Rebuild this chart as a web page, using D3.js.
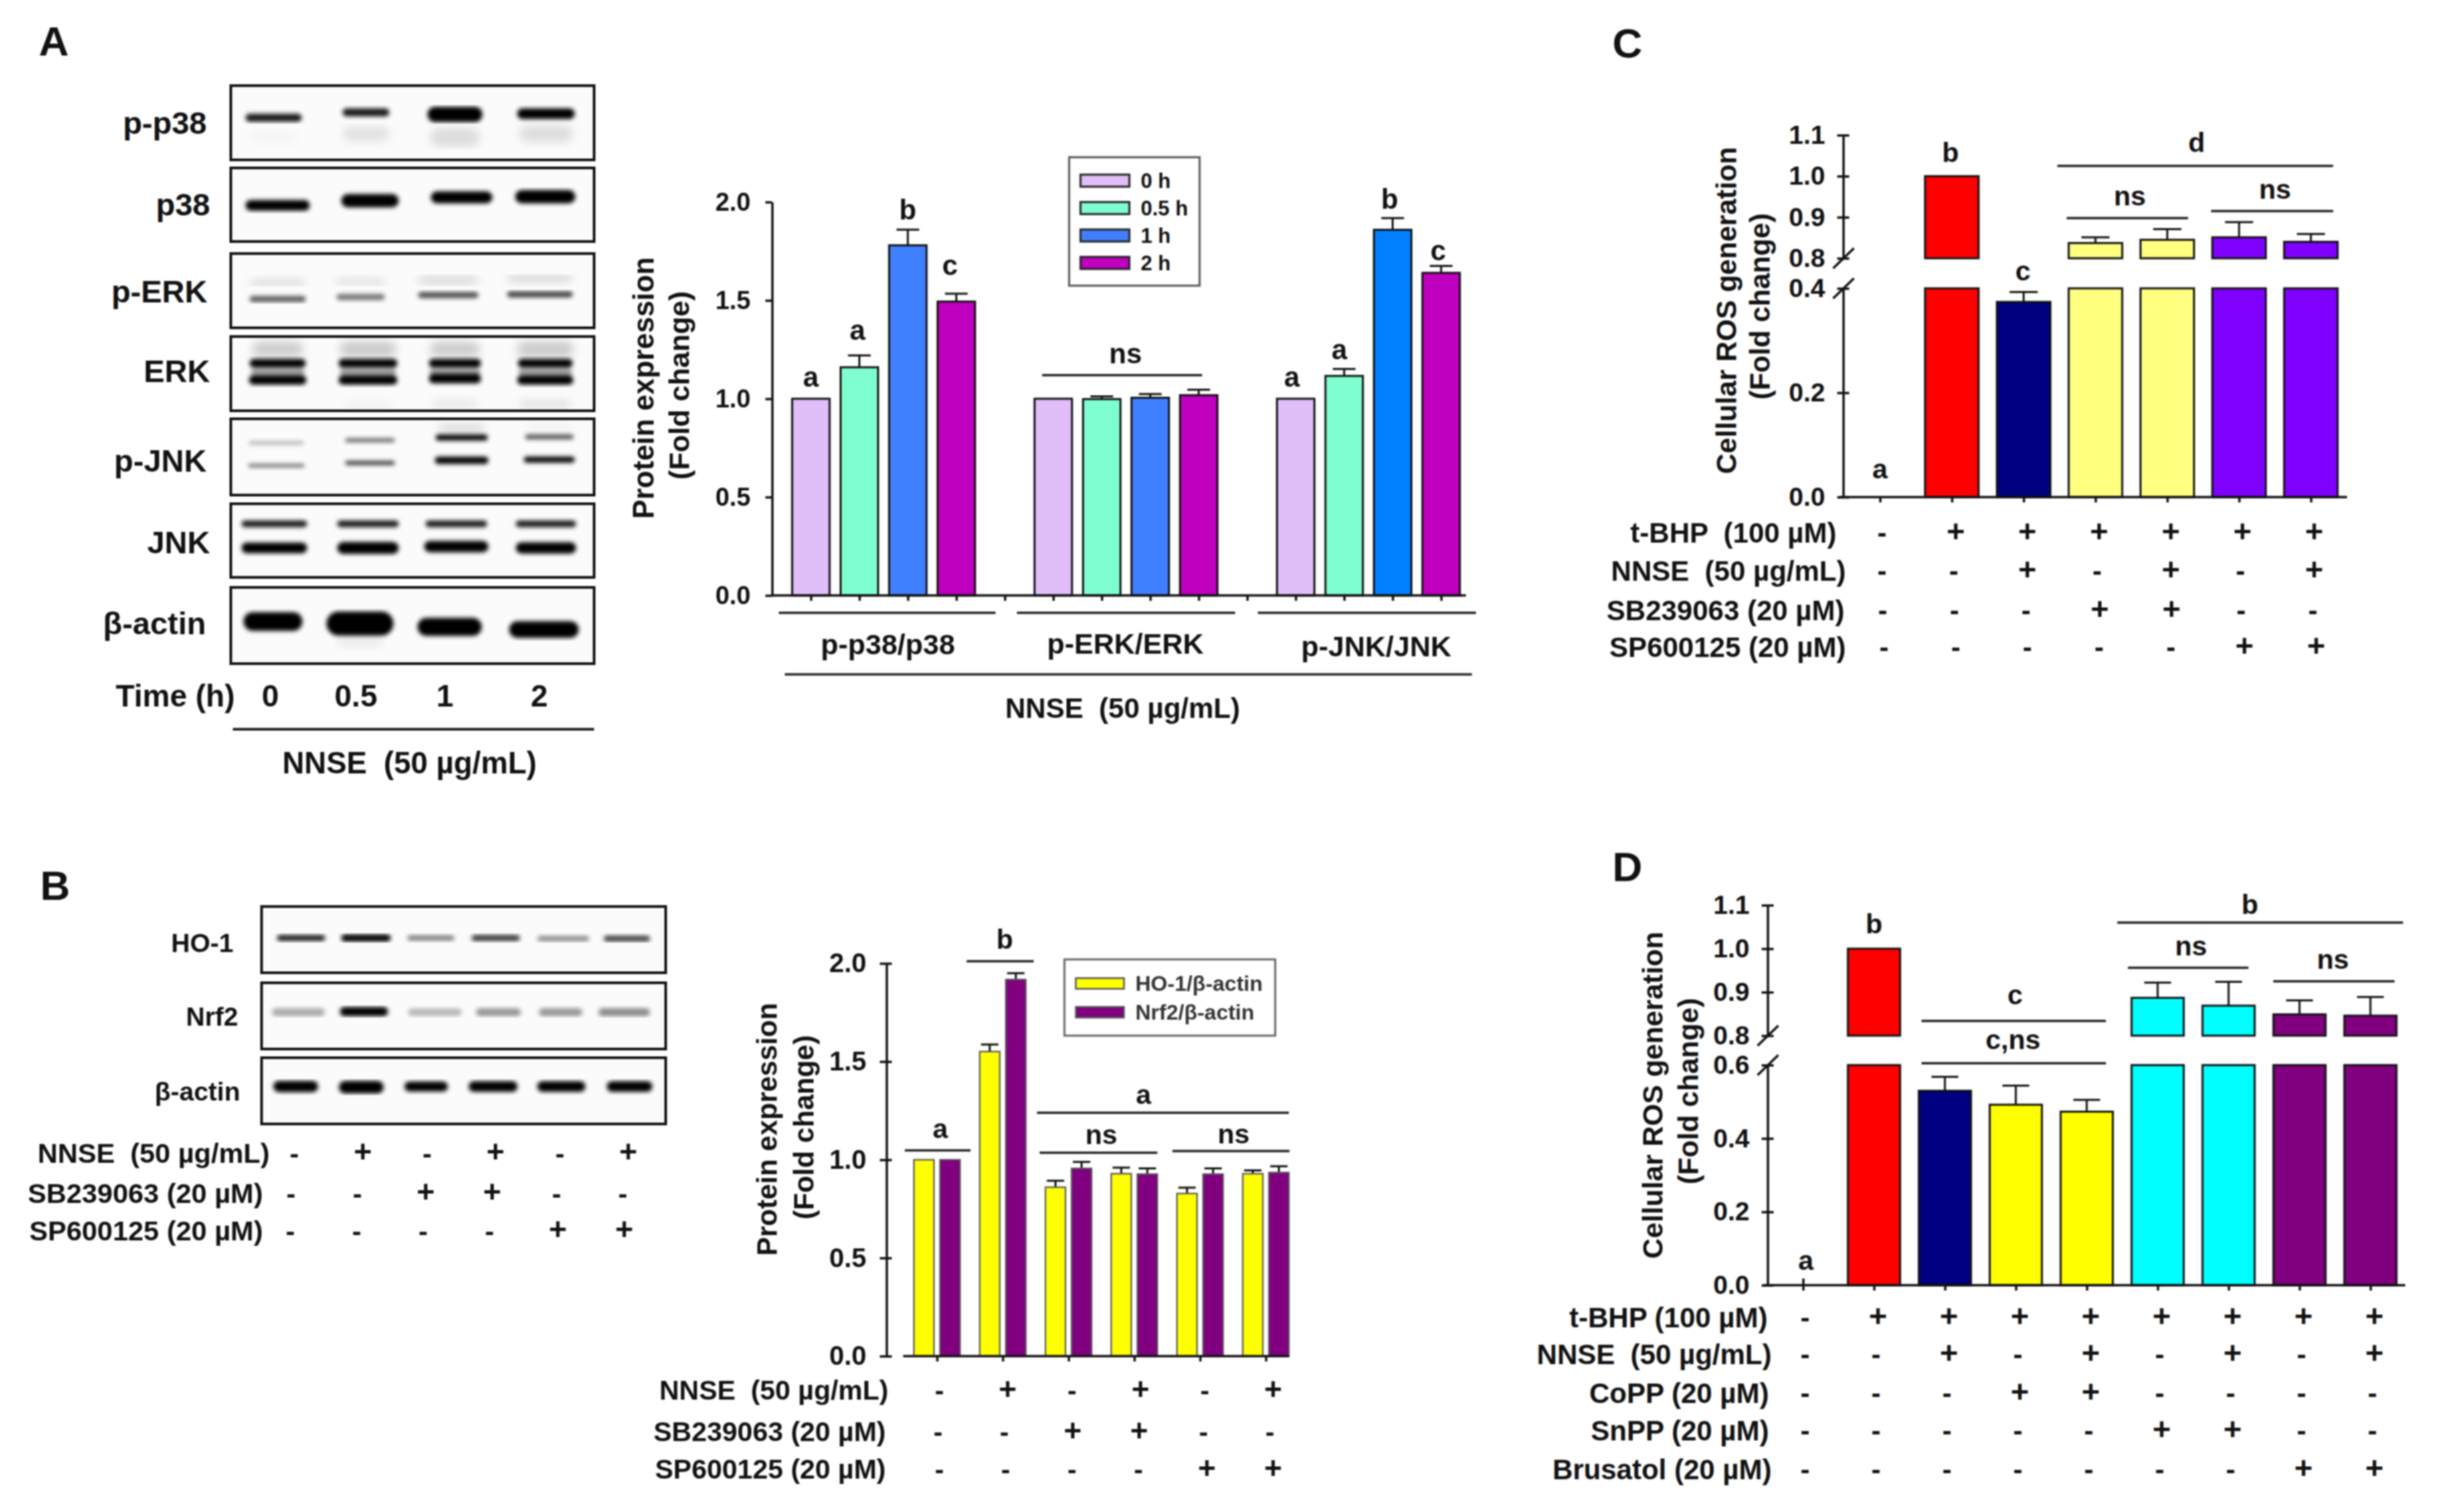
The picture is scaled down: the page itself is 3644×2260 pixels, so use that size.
<!DOCTYPE html>
<html><head><meta charset="utf-8">
<script src="https://cdnjs.cloudflare.com/ajax/libs/d3/7.8.5/d3.min.js"></script>
<style>
html,body{margin:0;padding:0;background:#fff}
svg{display:block;filter:blur(1.25px)}
text{font-family:"Liberation Sans",Arial,sans-serif;font-weight:bold;fill:#111}
</style></head><body>
<script>
// ---------- chart values ----------
const seriesA = ["0 h","0.5 h","1 h","2 h"];
const groupsA = ["p-p38/p38","p-ERK/ERK","p-JNK/JNK"];
const valuesP38 = [1.0,1.16,1.78,1.494];
const capsP38   = [1.0,1.22,1.86,1.534];
const valuesERK = [1.0,0.998,1.005,1.018];
const capsERK   = [1.0,1.012,1.024,1.046];
const valuesJNK = [1.0,1.116,1.859,1.64];
const capsJNK   = [1.0,1.151,1.918,1.675];
const lettersP38 = ["a","a","b","c"];
const lettersJNK = ["a","a","b","c"];
const ticksAB = [0,0.5,1,1.5,2];

const seriesB = ["HO-1/β-actin","Nrf2/β-actin"];
const valuesHO1 = [1.0,1.551,0.86,0.929,0.828,0.929];
const capsHO1   = [1.0,1.587,0.893,0.96,0.858,0.946];
const valuesNrf2 = [1.0,1.918,0.956,0.927,0.927,0.935];
const capsNrf2   = [1.0,1.95,0.989,0.956,0.956,0.967];

const valuesC = [0,1.0,0.374,0.837,0.845,0.851,0.84];
const capsC   = [0,1.0,0.393,0.851,0.871,0.888,0.859];
const valuesD = [0,1.0,0.53,0.492,0.473,0.887,0.869,0.849,0.846];
const capsD   = [0,1.0,0.568,0.544,0.505,0.922,0.924,0.881,0.889];
const ticksLowC = [0,0.2,0.4], ticksLowD = [0,0.2,0.4,0.6], ticksHigh = [0.8,0.9,1.0,1.1];

// treatment tables
const rowsB = [
 ["NNSE  (50 µg/mL)", ["-","+","-","+","-","+"]],
 ["SB239063 (20 µM)", ["-","-","+","+","-","-"]],
 ["SP600125 (20 µM)", ["-","-","-","-","+","+"]]];
const rowsC = [
 ["t-BHP  (100 µM)",  ["-","+","+","+","+","+","+"]],
 ["NNSE  (50 µg/mL)", ["-","-","+","-","+","-","+"]],
 ["SB239063 (20 µM)", ["-","-","-","+","+","-","-"]],
 ["SP600125 (20 µM)", ["-","-","-","-","-","+","+"]]];
const rowsD = [
 ["t-BHP (100 µM)",   ["-","+","+","+","+","+","+","+","+"]],
 ["NNSE  (50 µg/mL)", ["-","-","+","-","+","-","+","-","+"]],
 ["CoPP (20 µM)",     ["-","-","-","+","+","-","-","-","-"]],
 ["SnPP (20 µM)",     ["-","-","-","-","-","+","+","-","-"]],
 ["Brusatol (20 µM)", ["-","-","-","-","-","-","-","+","+"]]];
const gelNamesA = ["p-p38","p38","p-ERK","ERK","p-JNK","JNK","β-actin"];
const gelNamesB = ["HO-1","Nrf2","β-actin"];
const timeLabels = ["0","0.5","1","2"];

// ---------- styles ----------
const colorsA = ["#E1BEFA","#7FFFD0","#4080FF","#BF00BF"];
const blueJNK = "#0080FF";
const colorsB = ["#FFFF00","#800080"];
const colorsC = ["#fff","#FF0000","#000080","#FFFF80","#FFFF80","#8000FF","#8000FF"];
const colorsD = ["#fff","#FF0000","#000080","#FFFF00","#FFFF00","#00FFFF","#00FFFF","#800080","#800080"];

const W=3644,H=2260;
const svg=d3.select("body").append("svg").attr("width",W).attr("height",H).attr("viewBox",`0 0 ${W} ${H}`);
svg.append("rect").attr("width",W).attr("height",H).attr("fill","#fff");
const defs=svg.append("defs");
[["bandBlur",3],["hazeBlur",7]].forEach(f=>{
  defs.append("filter").attr("id",f[0]).attr("x","-10%").attr("y","-10%").attr("width","120%").attr("height","120%")
    .append("feGaussianBlur").attr("stdDeviation",f[1]);
});

function txt(x,y,s,size,opt={}){
  const t=svg.append("text").attr("x",x).attr("y",y).attr("dy","0.35em").attr("font-size",size)
    .attr("text-anchor",opt.anchor||"middle").style("white-space","pre").text(s);
  if(opt.rot) t.attr("transform",`rotate(${opt.rot} ${x} ${y})`);
  if(opt.fill) t.style("fill",opt.fill);
  return t;
}
function hline(x0,x1,y,w=3.5){
  svg.append("line").attr("x1",x0).attr("x2",x1).attr("y1",y).attr("y2",y).attr("stroke","#222").attr("stroke-width",w);
}
function styleAxis(g,fs){
  g.selectAll("path.domain").attr("stroke","#111").attr("stroke-width",3.5);
  g.selectAll(".tick line").attr("stroke","#111").attr("stroke-width",3.5);
  g.selectAll(".tick text").attr("font-size",fs).style("font-family",'"Liberation Sans",Arial,sans-serif').style("font-weight","bold").style("fill","#111");
}
// ---------- gels ----------
let gelId=0;
function gel(x0,x1,y0,y1,bands){
  const id="gel"+(gelId++);
  defs.append("clipPath").attr("id",id).append("rect").attr("x",x0).attr("y",y0).attr("width",x1-x0).attr("height",y1-y0);
  svg.append("rect").attr("x",x0).attr("y",y0).attr("width",x1-x0).attr("height",y1-y0).attr("fill","#fbfbfb");
  const clip=svg.append("g").attr("clip-path",`url(#${id})`);
  [["hazeBlur",bands.filter(d=>d[4]<.2)],["bandBlur",bands.filter(d=>d[4]>=.2)]].forEach(p=>{
    clip.append("g").attr("filter",`url(#${p[0]})`).selectAll("rect").data(p[1]).join("rect")
      .attr("x",d=>d[0]-d[2]/2).attr("y",d=>d[1]-d[3]/2).attr("width",d=>d[2]).attr("height",d=>d[3])
      .attr("rx",d=>d[3]/2).attr("fill","#000").attr("opacity",d=>d[4]);
  });
  svg.append("rect").attr("x",x0).attr("y",y0).attr("width",x1-x0).attr("height",y1-y0)
    .attr("fill","none").attr("stroke","#111").attr("stroke-width",4);
}
// panel A gels: [cx, cy, width, height, darkness]
const gelBandsA=[
 [[409,176,84,12,.9],[547,168,70,12,.9],[680,171,82,23,1],[816,170,86,16,1],[409,205,70,12,.03],[547,200,70,22,.1],[680,205,74,28,.12],[816,200,80,24,.12]],
 [[415,307,96,16,1],[553,300,86,20,1],[690,295,92,18,1],[815,294,90,20,1]],
 [[415,423,82,7,.19],[539,421,72,7,.17],[670,419,88,9,.19],[807,416,96,9,.19],[415,447,84,9,.65],[539,444,72,9,.55],[670,441,90,9,.7],[807,440,98,9,.75]],
 [[415,543,84,13,1],[550,543,88,13,1],[680,543,78,13,1],[815,543,82,13,1],[415,568,86,14,1],[550,568,88,14,1],[680,566,78,14,1],[815,568,84,14,1],
  [415,556,80,8,.4],[550,556,84,8,.4],[680,556,76,8,.4],[815,556,80,8,.4],[415,522,76,22,.19],[550,522,84,24,.19],[680,522,74,22,.19],[815,522,84,24,.19],
  [550,606,70,5,.1],[680,604,66,7,.14],[815,604,76,8,.16]],
 [[413,662,82,5,.3],[553,658,74,6,.6],[690,654,78,9,1],[821,653,72,7,.7],[413,696,84,5,.6],[553,692,74,6,.8],[690,688,80,11,1],[821,687,76,9,1],[690,640,70,14,.12],[821,640,70,8,.06]],
 [[410,783,98,10,.9],[550,783,92,10,.9],[682,783,92,10,.9],[816,783,90,10,.9],[410,819,98,16,1],[550,819,92,18,1],[682,817,96,17,1],[816,819,90,17,1]],
 [[408,929,88,28,1],[538,932,100,36,1],[672,937,96,27,1],[813,941,104,25,1],[538,955,70,30,.05]]
];
const gelBoxesA=[[128,239],[251,361],[379,490],[503,614],[626,740],[753,863],[878,992]];
const gelLabelRightA=[309,314,310,314,309,314,308], gelLabelYA=[184,306,436,555,689,811,932];
gelBoxesA.forEach((b,i)=>{
  gel(345,888,b[0],b[1],gelBandsA[i]);
  txt(gelLabelRightA[i],gelLabelYA[i],gelNamesA[i],47,{anchor:"end"});
});
txt(351,1040,"Time (h)",46,{anchor:"end"});
[404,532,665,806].forEach((x,i)=>txt(x,1040,timeLabels[i],46));
hline(348,888,1090,4);
txt(612,1140,"NNSE  (50 µg/mL)",45.5);
// panel B gels
const gelBandsB=[
 [[450,1402,72,9,.9],[547,1402,74,11,1],[644,1402,70,8,.5],[741,1402,72,9,.8],[842,1403,77,8,.45],[937,1403,69,9,.75]],
 [[446,1513,79,12,.32],[544,1512,72,14,1],[650,1513,80,11,.28],[745,1513,67,12,.4],[838,1513,65,12,.4],[933,1513,77,12,.45]],
 [[442,1624,67,17,1],[540,1625,67,19,1],[637,1624,65,15,1],[737,1624,73,16,1],[839,1624,72,16,1],[941,1624,68,16,1]]
];
const gelBoxesB=[[1355,1454],[1469,1568],[1581,1680]];
const gelLabelRightB=[349,356,359], gelLabelYB=[1409,1519,1631];
gelBoxesB.forEach((b,i)=>{
  gel(391,995,b[0],b[1],gelBandsB[i]);
  txt(gelLabelRightB[i],gelLabelYB[i],gelNamesB[i],39,{anchor:"end"});
});
function signTable(rows,labelRights,rowYs,xOf,dx,fsL){
  rows.forEach((r,ri)=>{
    txt(labelRights[ri],rowYs[ri],r[0],fsL,{anchor:"end"});
    r[1].forEach((s,i)=>{
      if(s==="+") txt(xOf(i)+dx[ri]+3,rowYs[ri]-2,s,fsL*1.12);
      else txt(xOf(i)+dx[ri],rowYs[ri],s,fsL);
    });
  });
}
const xSignsGelB=d3.scalePoint().domain(d3.range(6)).range([440,936]);
signTable(rowsB,[403,393,393],[1723,1783,1839],xSignsGelB,[0,-5,-6],41.5);

// panel letters
txt(58,61,"A",62,{anchor:"start"});
txt(60,1323,"B",62,{anchor:"start"});
txt(2410,64,"C",62,{anchor:"start"});
txt(2410,1295,"D",62,{anchor:"start"});

// ---------- generic bar helpers ----------
function drawBars(items,bw,sw,stroke,capW){
  const g=svg.append("g");
  items.filter(d=>d.cap!=null&&d.cap<d.y1).forEach(d=>{
    g.append("line").attr("x1",d.x).attr("x2",d.x).attr("y1",d.y1).attr("y2",d.cap).attr("stroke","#111").attr("stroke-width",3);
    g.append("line").attr("x1",d.x-capW/2).attr("x2",d.x+capW/2).attr("y1",d.cap).attr("y2",d.cap).attr("stroke","#111").attr("stroke-width",3);
  });
  g.selectAll("rect").data(items).join("rect")
    .attr("x",d=>d.x-bw/2).attr("width",bw).attr("y",d=>d.y1).attr("height",d=>d.y0-d.y1)
    .attr("fill",d=>d.fill).attr("stroke",stroke).attr("stroke-width",sw);
}
function notes(list,xS,fy,fs){ list.forEach(n=>txt(xS(n[1]),fy(n[2],n[3]),n[0],fs)); }
function brackets(list,xS,fy){ list.forEach(n=>hline(xS(n[0]),xS(n[1]),fy(n[2],n[3]))); }

// ---------- Chart A ----------
{
  const y=d3.scaleLinear().domain([0,2]).range([890,302]);
  const x=d3.scaleLinear().domain([0,13]).range([1212,2154]);
  const gy=svg.append("g").attr("transform","translate(1154,0)").call(d3.axisLeft(y).tickValues(ticksAB).tickFormat(d3.format(".1f")).tickSize(10).tickSizeOuter(0).tickPadding(22));
  styleAxis(gy,38);
  const items=[];
  [valuesP38,valuesERK,valuesJNK].forEach((vals,g)=>{
    const caps=[capsP38,capsERK,capsJNK][g];
    vals.forEach((v,i)=>items.push({x:x(g*5+i),y0:y(0),y1:y(v),cap:y(caps[i]),
      fill:(g===2&&i===2)?blueJNK:colorsA[i]}));
  });
  drawBars(items,56,3,"#111",34);
  const gx=svg.append("g").attr("transform","translate(0,890)").call(d3.axisBottom(x).tickValues(d3.range(14)).tickFormat("").tickSize(8).tickSizeOuter(0));
  styleAxis(gx,1);
  gx.select("path.domain").attr("d","M1154,0H2191");
  lettersP38.forEach((s,i)=>txt(x([0,.96,2,2.87][i]),y([1.11,1.35,1.962,1.68][i]),s,42));
  lettersJNK.forEach((s,i)=>txt(x([9.92,10.9,11.94,12.94][i]),y([1.11,1.25,2.016,1.753][i]),s,42));
  txt(x(6.49),y(1.23),"ns",42);
  hline(x(4.77),x(8.07),y(1.12));
  [[1164,1488],[1520,1846],[1880,2206]].forEach(r=>hline(r[0],r[1],916));
  [[1327,963],[1682,962],[2057,966]].forEach((p,i)=>txt(p[0],p[1],groupsA[i],43));
  hline(1173,2200,1008);
  txt(1678,1058,"NNSE  (50 µg/mL)",42);
  txt(962,580,"Protein expression",43.5,{rot:-90});
  txt(1015,576,"(Fold change)",43,{rot:-90});
  svg.append("rect").attr("x",1598).attr("y",235).attr("width",195).attr("height",192).attr("fill","#fff").attr("stroke","#555").attr("stroke-width",3);
  const ly=d3.scalePoint().domain(seriesA).range([270,393]);
  seriesA.forEach((s,i)=>{
    svg.append("rect").attr("x",1615).attr("y",ly(s)-9).attr("width",73).attr("height",18).attr("fill",colorsA[i]).attr("stroke","#222").attr("stroke-width",3);
    txt(1705,ly(s),s,31,{anchor:"start"});
  });
}
// ---------- Chart B ----------
{
  const y=d3.scaleLinear().domain([0,2]).range([2027,1440]);
  const x=d3.scaleLinear().domain([0,5]).range([1400.5,1892]);
  const gy=svg.append("g").attr("transform","translate(1325,0)").call(d3.axisLeft(y).tickValues(ticksAB).tickFormat(d3.format(".1f")).tickSize(10).tickSizeOuter(0).tickPadding(20));
  gy.selectAll(".tick line").attr("x2",8).attr("x1",-10);
  styleAxis(gy,40);
  const items=[];
  valuesHO1.forEach((v,i)=>{
    items.push({x:x(i)-19.5,y0:y(0),y1:y(v),cap:y(capsHO1[i]),fill:colorsB[0]});
    items.push({x:x(i)+19.5,y0:y(0),y1:y(valuesNrf2[i]),cap:y(capsNrf2[i]),fill:colorsB[1]});
  });
  drawBars(items,30,2.2,"#555",26);
  const gx=svg.append("g").attr("transform","translate(0,2027)").call(d3.axisBottom(x).tickValues(d3.range(6)).tickFormat("").tickSize(8).tickSizeOuter(0));
  styleAxis(gx,1);
  gx.select("path.domain").attr("d","M1350,0H1927");
  const fy=v=>y(v);
  notes([["a",.05,1.159],["b",1.03,2.124],["a",3.14,1.335],["ns",2.5,1.128],["ns",4.51,1.134]],x,fy,41);
  brackets([[-.49,.51,1.048],[.45,1.47,2.011],[1.52,5.35,1.239],[1.56,3.35,1.036],[3.58,5.36,1.044]],x,fy);
  txt(1146,1688,"Protein expression",42,{rot:-90});
  txt(1201,1685,"(Fold change)",42,{rot:-90});
  svg.append("rect").attr("x",1591).attr("y",1434).attr("width",315).attr("height",114).attr("fill","#fff").attr("stroke","#666").attr("stroke-width",3);
  const ly=d3.scalePoint().domain(seriesB).range([1470,1513]);
  seriesB.forEach((s,i)=>{
    svg.append("rect").attr("x",1608).attr("y",ly(s)-8).attr("width",72).attr("height",16).attr("fill",colorsB[i]).attr("stroke","#555").attr("stroke-width",2.5);
    txt(1697,ly(s),s,32,{anchor:"start",fill:"#333"});
  });
  const xs=d3.scalePoint().domain(d3.range(6)).range([1404,1900]);
  signTable(rowsB,[1328,1324,1324],[2078,2140,2196],xs,[0,-2,0],41);
}
// ---------- broken-axis charts ----------
function brokenChart(cfg){
  const yl=d3.scaleLinear().domain(cfg.lowDom).range(cfg.lowRange);
  const yh=d3.scaleLinear().domain([.8,1.1]).range(cfg.highRange);
  const fy=(v,s)=>s==="low"?yl(v):yh(v);
  const x=d3.scaleLinear().domain([0,cfg.values.length-1]).range(cfg.xRange);
  const mk=(scale,ticks)=>{
    const g=svg.append("g").attr("transform",`translate(${cfg.axisX},0)`)
      .call(d3.axisLeft(scale).tickValues(ticks).tickFormat(d3.format(".1f")).tickSize(9).tickSizeOuter(0).tickPadding(cfg.pad));
    g.selectAll(".tick line").attr("x1",-9).attr("x2",9);
    styleAxis(g,39);
  };
  mk(yl,cfg.ticksLow); mk(yh,ticksHigh);
  const limit=cfg.lowDom[1], items=[];
  cfg.values.forEach((v,i)=>{
    if(v<=0) return;
    if(v>=.8){
      items.push({x:x(i),y0:yl(0),y1:yl(limit),fill:cfg.colors[i]});
      items.push({x:x(i),y0:yh(.8),y1:yh(v),cap:yh(cfg.caps[i]),fill:cfg.colors[i]});
    } else items.push({x:x(i),y0:yl(0),y1:yl(v),cap:yl(cfg.caps[i]),fill:cfg.colors[i]});
  });
  drawBars(items,cfg.bw,3,"#111",cfg.capW);
  const gx=svg.append("g").attr("transform",`translate(0,${yl(0)})`)
    .call(d3.axisBottom(x).tickValues(d3.range(cfg.values.length)).tickFormat("").tickSize(8).tickSizeOuter(0));
  styleAxis(gx,1);
  gx.select("path.domain").attr("d",`M${cfg.axisX-6},0H${cfg.axisEnd}`);
  if(cfg.firstUp) gx.selectAll(".tick line").filter((d,i)=>i===0).attr("y1",-10);
  [[yl(limit)+15,yl(limit)-15],[yh(.8)+15,yh(.8)-15]].forEach(p=>{
    svg.append("line").attr("x1",cfg.axisX-15).attr("x2",cfg.axisX+16).attr("y1",p[0]).attr("y2",p[1]).attr("stroke","#111").attr("stroke-width",3.5);
  });
  notes(cfg.notes,x,fy,41);
  brackets(cfg.brackets,x,fy);
  txt(cfg.title1[0],cfg.title1[1],"Cellular ROS generation",42.5,{rot:-90});
  txt(cfg.title2[0],cfg.title2[1],"(Fold change)",42.5,{rot:-90});
  const xs=d3.scaleLinear().domain([0,cfg.values.length-1]).range(cfg.signRange);
  signTable(cfg.rows,cfg.rowRight,cfg.rowY,xs,cfg.rowDx,cfg.rowFont);
}
brokenChart({
  lowDom:[0,.4],lowRange:[743,431],highRange:[386,202],axisX:2755,axisEnd:3508,pad:18,
  values:valuesC,caps:capsC,colors:colorsC,xRange:[2810,3454],bw:80,capW:42,ticksLow:ticksLowC,
  notes:[["a",0,.054,"low"],["b",.98,1.058],["c",1.99,.434,"low"],["d",4.41,1.083],["ns",3.48,.952],["ns",5.5,.968]],
  brackets:[[2.47,6.31,1.025],[2.6,4.29,.898],[4.61,6.31,.915]],
  title1:[2580,464],title2:[2630,458],
  rows:rowsC,rowRight:[2745,2759,2757,2759],rowY:[796,853,912,967],signRange:[2813,3456],rowDx:[0,0,1,3],rowFont:42
});
brokenChart({
  lowDom:[0,.6],lowRange:[1921,1592],highRange:[1548,1353],axisX:2642,axisEnd:3595,pad:18,firstUp:true,
  values:valuesD,caps:capsD,colors:colorsD,xRange:[2695,3543],bw:78,capW:40,ticksLow:ticksLowD,
  notes:[["a",.04,.068,"low"],["b",1,1.058],["c",2.99,.894],["c,ns",2.96,.791],["b",6.3,1.102],["ns",5.47,1.007],["ns",7.47,.976]],
  brackets:[[1.67,4.27,.834],[1.67,4.27,.605,"low"],[4.43,8.46,1.06],[4.58,6.28,.956],[6.63,8.34,.925]],
  title1:[2470,1637],title2:[2523,1631],
  rows:rowsD,rowRight:[2642,2648,2644,2644,2648],rowY:[1969,2024,2082,2138,2196],signRange:[2698,3546],rowDx:[0,0,0,0,0],rowFont:42
});
</script>
</body></html>
